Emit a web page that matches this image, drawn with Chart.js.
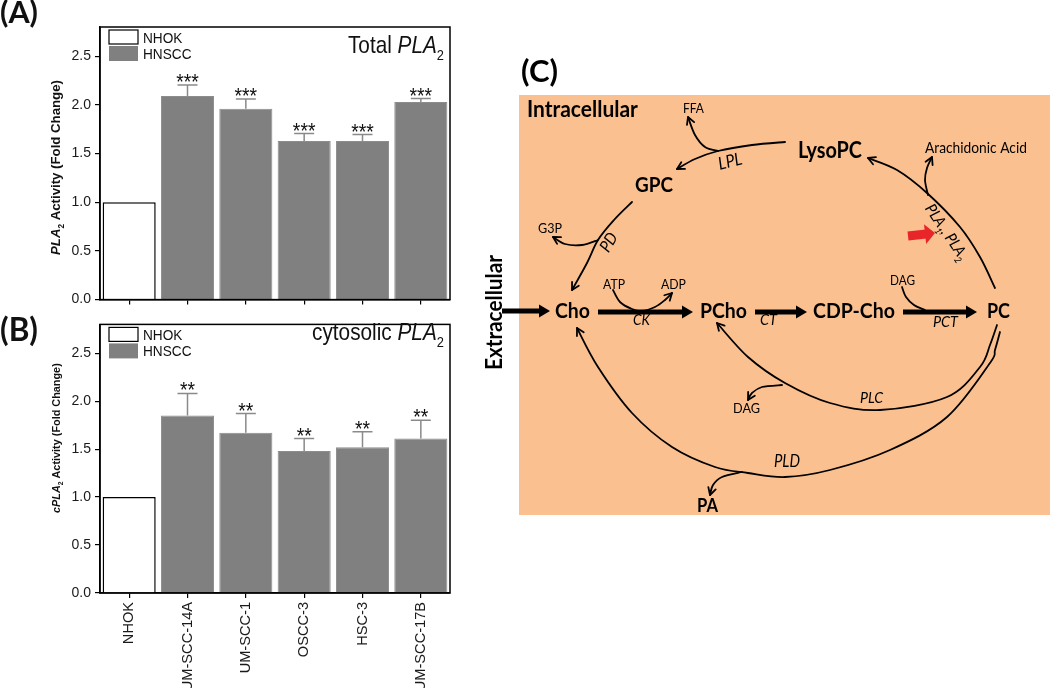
<!DOCTYPE html>
<html>
<head>
<meta charset="utf-8">
<script src="https://cdn.jsdelivr.net/npm/chart.js@4.4.1/dist/chart.umd.min.js"></script>
<style>
html, body { margin: 0; padding: 0; background: #fff; }
body { width: 1050px; height: 688px; position: relative; overflow: hidden; }
canvas { position: absolute; left: 0; }
</style>
</head>
<body>
<canvas id="grafA" width="520" height="312" style="top:0"></canvas>
<canvas id="grafB" width="520" height="376" style="top:312px"></canvas>
<canvas id="esquema" width="1050" height="688" style="top:0"></canvas>
<script>
// dados dos gráficos
const linhagens = ['NHOK', 'UM-SCC-14A', 'UM-SCC-1', 'OSCC-3', 'HSC-3', 'UM-SCC-17B'];
const grupos = ['NHOK', 'HNSCC'];
const totalPLA2 = [1.00, 2.09, 1.96, 1.63, 1.63, 2.03];
const totalPLA2Erro = [0, 0.115, 0.10, 0.075, 0.065, 0.035];
const totalPLA2Sig = ['', '***', '***', '***', '***', '***'];
const cPLA2 = [1.00, 1.85, 1.67, 1.48, 1.52, 1.61];
const cPLA2Erro = [0, 0.23, 0.20, 0.13, 0.16, 0.19];
const cPLA2Sig = ['', '**', '**', '**', '**', '**'];
const ticksY = [0, 0.5, 1.0, 1.5, 2.0, 2.5];
const maxY = 2.8;

const corNHOK = '#ffffff';
const corHNSCC = '#808080';
const fonteArial = '"Liberation Sans", Arial, sans-serif';
const fonteCalibri = 'Lato, "Open Sans", sans-serif';
// o original está um pouco comprimido na horizontal
const compressao = 0.88;
// Lato é mais larga que a fonte do esquema original
const compressaoEsquema = 0.9;

// texto com itálico / subscrito
function fonteParte(p, tam, fam) {
    return (p.i ? 'italic ' : '') + (p.b ? 'bold ' : '') + (p.sub ? tam * 0.62 : tam) + 'px ' + fam;
}
function larguraRica(c, partes, tam, fam) {
    let w = 0;
    partes.forEach(p => { c.font = fonteParte(p, tam, fam); w += c.measureText(p.t).width; });
    return w;
}
function desenharRica(c, partes, x, y, tam, fam, k = 1) {
    c.save();
    c.translate(x, y);
    c.scale(k, 1);
    c.textAlign = 'left';
    c.textBaseline = 'alphabetic';
    let px = 0;
    partes.forEach(p => {
        c.font = fonteParte(p, tam, fam);
        c.fillText(p.t, px, p.sub ? tam * 0.28 : 0);
        px += c.measureText(p.t).width;
    });
    c.restore();
}
function tamanhoAjustado(c, partes, fam, largura) {
    return 20 * largura / larguraRica(c, partes, 20, fam);
}
// texto girado, centrado em (cx, cy)
function desenharGirado(c, partes, cx, cy, ang, largura, fam, k = 1) {
    const tam = tamanhoAjustado(c, partes, fam, largura / k);
    c.save();
    c.translate(cx, cy);
    c.rotate(ang);
    desenharRica(c, partes, -largura / 2, tam * 0.35, tam, fam, k);
    c.restore();
}

function fazerGraficoBarras(idCanvas, valores, erros, sig, cfg) {
    const ctx = document.getElementById(idCanvas);
    const extras = {
        id: 'extras',
        afterDatasetsDraw(chart) {
            const c = chart.ctx, y = chart.scales.y, meta = chart.getDatasetMeta(0);
            c.save();
            meta.data.forEach((barra, i) => {
                if (!erros[i]) return;
                const yTopo = y.getPixelForValue(valores[i] + erros[i]);
                c.strokeStyle = '#8a8a8a';
                c.lineWidth = 1.5;
                c.beginPath();
                c.moveTo(barra.x, barra.y);
                c.lineTo(barra.x, yTopo);
                c.moveTo(barra.x - 10, yTopo);
                c.lineTo(barra.x + 10, yTopo);
                c.stroke();
                c.fillStyle = '#111';
                const parte = [{ t: sig[i] }];
                const w = larguraRica(c, parte, 22, fonteArial) * compressao;
                desenharRica(c, parte, barra.x - w / 2, yTopo + 4, 22, fonteArial, compressao);
            });
            c.restore();
        },
        afterDraw(chart) {
            const c = chart.ctx, a = chart.chartArea, dy = cfg.topoCanvas;
            c.save();
            // moldura
            c.strokeStyle = '#000';
            c.lineWidth = 1.5;
            c.strokeRect(a.left, a.top, a.right - a.left, a.bottom - a.top);
            // legenda
            c.lineWidth = 1.2;
            c.fillStyle = corNHOK;
            c.fillRect(a.left + 9, a.top + 3, 29, 14);
            c.strokeRect(a.left + 9, a.top + 3, 29, 14);
            c.fillStyle = corHNSCC;
            c.fillRect(a.left + 9, a.top + 19, 29, 15);
            c.fillStyle = '#111';
            desenharRica(c, [{ t: grupos[0] }], a.left + 43, a.top + 15.5, 15.5, fonteArial, compressao);
            desenharRica(c, [{ t: grupos[1] }], a.left + 43, a.top + 31.5, 15.5, fonteArial, compressao);
            // título do painel
            const tamT = tamanhoAjustado(c, cfg.titulo, fonteArial, cfg.tituloLarg / compressao);
            desenharRica(c, cfg.titulo, a.right - 6 - cfg.tituloLarg, cfg.tituloBase - dy, tamT, fonteArial, compressao);
            // título do eixo y
            desenharGirado(c, cfg.tituloY, cfg.tituloYCentro[0], cfg.tituloYCentro[1] - dy, -Math.PI / 2, cfg.tituloYLarg, fonteArial);
            // letra do painel
            const letra = [{ t: cfg.painel, b: 1 }];
            desenharRica(c, letra, 0, cfg.painelBase - dy, tamanhoAjustado(c, letra, fonteCalibri, 38), fonteCalibri);
            c.restore();
        }
    };
    return new Chart(ctx, {
        type: 'bar',
        data: {
            labels: linhagens,
            datasets: [{
                data: valores,
                backgroundColor: linhagens.map((l, i) => i === 0 ? corNHOK : corHNSCC),
                borderColor: linhagens.map((l, i) => i === 0 ? '#000' : '#8c8c8c'),
                borderWidth: linhagens.map((l, i) => i === 0 ? 1.5 : 1),
                barPercentage: 0.91,
                categoryPercentage: 1
            }]
        },
        options: {
            responsive: false,
            animation: false,
            layout: { padding: { top: cfg.padTop, right: 70, left: 0, bottom: 0 } },
            plugins: { legend: { display: false }, tooltip: { enabled: false } },
            scales: {
                x: {
                    offset: true,
                    grid: { offset: false, drawOnChartArea: false, tickLength: 5, color: '#000', lineWidth: 1.2 },
                    border: { color: '#000', width: 1.5 },
                    ticks: {
                        display: cfg.mostrarRotulos,
                        minRotation: 90,
                        maxRotation: 90,
                        padding: 4,
                        color: '#1a1a1a',
                        font: { family: fonteArial, size: 14.6 }
                    },
                    afterFit: s => { s.height = cfg.alturaX; }
                },
                y: {
                    min: 0,
                    max: maxY,
                    afterBuildTicks: s => { s.ticks = ticksY.map(v => ({ value: v })); },
                    ticks: {
                        callback: v => Number(v).toFixed(1),
                        padding: 4,
                        color: '#1a1a1a',
                        font: { family: fonteArial, size: 14 }
                    },
                    grid: { drawOnChartArea: false, tickLength: 5, color: '#000', lineWidth: 1.2 },
                    border: { color: '#000', width: 1.5 },
                    afterFit: s => { s.width = 100; }
                }
            }
        },
        plugins: [extras]
    });
}

fazerGraficoBarras('grafA', totalPLA2, totalPLA2Erro, totalPLA2Sig, {
    topoCanvas: 0, padTop: 27, alturaX: 8, mostrarRotulos: false,
    titulo: [{ t: 'Total ' }, { t: 'PLA', i: 1 }, { t: '2', sub: 1 }],
    tituloLarg: 96, tituloBase: 53,
    tituloY: [{ t: 'PLA', i: 1, b: 1 }, { t: '2', sub: 1, b: 1 }, { t: ' Activity (Fold Change)', b: 1 }],
    tituloYCentro: [55.5, 167.5], tituloYLarg: 175,
    painel: '(A)', painelBase: 23
});
fazerGraficoBarras('grafB', cPLA2, cPLA2Erro, cPLA2Sig, {
    topoCanvas: 312, padTop: 3, alturaX: 95, mostrarRotulos: true,
    titulo: [{ t: 'cytosolic ' }, { t: 'PLA', i: 1 }, { t: '2', sub: 1 }],
    tituloLarg: 132, tituloBase: 340,
    tituloY: [{ t: 'cPLA', i: 1, b: 1 }, { t: '2', sub: 1, b: 1 }, { t: ' Activity (Fold Change)', b: 1 }],
    tituloYCentro: [56, 438], tituloYLarg: 150,
    painel: '(B)', painelBase: 341
});

// esquema (C): posições em pixels da página
const caixaIntracelular = [519, 95, 1050, 515];
const corFundo = '#fac090';
// [texto, x, linha de base, largura, negrito, itálico]
const rotulosEsquema = [
    ['Intracellular', 527, 117, 111, 1, 0],
    ['FFA', 683, 113, 21, 0, 0],
    ['LysoPC', 798, 158, 64, 1, 0],
    ['Arachidonic Acid', 925, 153, 102, 0, 0],
    ['GPC', 635, 192, 38, 1, 0],
    ['G3P', 538, 233, 24, 0, 0],
    ['ATP', 603, 289, 22, 0, 0],
    ['ADP', 661, 289, 25, 0, 0],
    ['DAG', 890, 285, 25, 0, 0],
    ['Cho', 555, 318, 35, 1, 0],
    ['PCho', 700, 318, 47, 1, 0],
    ['CDP-Cho', 813, 318, 82, 1, 0],
    ['PC', 987, 318, 23, 1, 0],
    ['CK', 633, 325, 17, 0, 1],
    ['CT', 760, 325, 17, 0, 1],
    ['PCT', 933, 327, 25, 0, 1],
    ['DAG', 733, 413, 27, 0, 0],
    ['PLC', 860, 403, 23, 0, 1],
    ['PLD', 774, 467, 26, 0, 1],
    ['PA', 697, 512, 21, 1, 0]
];
// [partes, cx, cy, ângulo (graus), comprimento]
const rotulosGirados = [
    [[{ t: 'Extracellular', b: 1 }], 494, 312.5, -90, 115],
    [[{ t: 'LPL', i: 1 }], 730, 161, -14, 24],
    [[{ t: 'PD', i: 1 }], 608.5, 242, -58, 19],
    [[{ t: 'PLA', i: 1 }, { t: '1', i: 1, sub: 1 }, { t: ', ', i: 1 }, { t: 'PLA', i: 1 }, { t: '2', i: 1, sub: 1 }], 947, 232, 56, 64]
];
const curvasEsquema = [
    { pts: [[785, 142], [752, 145], [718, 151], [695, 159], [677, 169]], seta: true },
    { pts: [[718, 151], [705, 147], [695, 135], [688, 117]], seta: true },
    { pts: [[632, 202], [614, 220], [598, 240], [587, 263], [572, 290]], seta: true },
    { pts: [[598, 240], [582, 245], [565, 244], [553, 237]], seta: true },
    { pts: [[613, 290], [620, 302], [632, 309], [642, 311], [655, 307], [665, 300], [672, 293]], seta: true },
    { pts: [[902, 287], [906, 297], [914, 305], [925, 310]], seta: false },
    { pts: [[995, 288], [980, 257], [960, 227], [927, 193], [897, 170], [868, 158]], seta: true },
    { pts: [[928, 195], [925, 180], [927, 168], [932, 157]], seta: true },
    { pts: [[997, 325], [990, 345], [980, 367], [947, 397], [880, 410], [830, 403], [785, 383], [748, 357], [717, 323]], seta: true },
    { pts: [[782, 385], [762, 387], [752, 393], [748, 400]], seta: true },
    { pts: [[1000, 332], [995, 350], [990, 363], [947, 417], [890, 450], [830, 470], [785, 477], [748, 473], [715, 467], [672, 447], [632, 413], [598, 367], [577, 328]], seta: true },
    { pts: [[742, 472], [722, 477], [713, 485], [710, 495]], seta: true }
];
const setasGrossas = [[502, 311, 550, 311], [598, 312, 693, 312], [755, 312, 807, 312], [903, 312, 977, 312]];
const setaVermelha = [908, 236, 935, 233];

function desenharCurva(c, pts) {
    c.beginPath();
    c.moveTo(pts[0][0], pts[0][1]);
    for (let i = 0; i < pts.length - 1; i++) {
        const p0 = pts[i - 1] || pts[i], p1 = pts[i], p2 = pts[i + 1], p3 = pts[i + 2] || pts[i + 1];
        c.bezierCurveTo(
            p1[0] + (p2[0] - p0[0]) / 6, p1[1] + (p2[1] - p0[1]) / 6,
            p2[0] - (p3[0] - p1[0]) / 6, p2[1] - (p3[1] - p1[1]) / 6,
            p2[0], p2[1]);
    }
    c.stroke();
}
function pontaAberta(c, de, ate) {
    const ang = Math.atan2(ate[1] - de[1], ate[0] - de[0]), L = 8;
    c.beginPath();
    c.moveTo(ate[0] - L * Math.cos(ang - 0.5), ate[1] - L * Math.sin(ang - 0.5));
    c.lineTo(ate[0], ate[1]);
    c.lineTo(ate[0] - L * Math.cos(ang + 0.5), ate[1] - L * Math.sin(ang + 0.5));
    c.stroke();
}
function setaCheia(c, x0, y0, x1, y1, espessura, compr, meia) {
    const ang = Math.atan2(y1 - y0, x1 - x0), len = Math.hypot(x1 - x0, y1 - y0);
    c.save();
    c.translate(x0, y0);
    c.rotate(ang);
    c.fillRect(0, -espessura / 2, len - compr + 1, espessura);
    c.beginPath();
    c.moveTo(len, 0);
    c.lineTo(len - compr, -meia);
    c.lineTo(len - compr, meia);
    c.closePath();
    c.fill();
    c.restore();
}

const pluginEsquema = {
    id: 'esquema',
    afterDraw(chart) {
        const c = chart.ctx;
        const sx = v => chart.scales.x.getPixelForValue(v);
        const sy = v => chart.scales.y.getPixelForValue(v);
        const P = p => [sx(p[0]), sy(p[1])];
        c.save();
        const [x0, y0, x1, y1] = caixaIntracelular;
        c.fillStyle = corFundo;
        c.fillRect(sx(x0), sy(y0), sx(x1) - sx(x0), sy(y1) - sy(y0));
        // curvas finas
        c.strokeStyle = '#000';
        c.lineWidth = 1.8;
        c.lineCap = 'round';
        c.lineJoin = 'round';
        curvasEsquema.forEach(cv => {
            const pts = cv.pts.map(P);
            desenharCurva(c, pts);
            if (cv.seta) pontaAberta(c, pts[pts.length - 2], pts[pts.length - 1]);
        });
        // setas grossas
        c.fillStyle = '#000';
        setasGrossas.forEach(s => setaCheia(c, sx(s[0]), sy(s[1]), sx(s[2]), sy(s[3]), 5, 11, 6.5));
        c.fillStyle = '#e8262a';
        setaCheia(c, sx(setaVermelha[0]), sy(setaVermelha[1]), sx(setaVermelha[2]), sy(setaVermelha[3]), 9, 10, 10);
        // rótulos
        c.fillStyle = '#000';
        rotulosEsquema.forEach(r => {
            const partes = [{ t: r[0], b: r[4], i: r[5] }];
            const tam = tamanhoAjustado(c, partes, fonteCalibri, r[3] / compressaoEsquema);
            desenharRica(c, partes, sx(r[1]), sy(r[2]), tam, fonteCalibri, compressaoEsquema);
        });
        rotulosGirados.forEach(r => {
            desenharGirado(c, r[0], sx(r[1]), sy(r[2]), r[3] * Math.PI / 180, r[4], fonteCalibri, compressaoEsquema);
        });
        const letra = [{ t: '(C)', b: 1 }];
        desenharRica(c, letra, sx(521), sy(82), tamanhoAjustado(c, letra, fonteCalibri, 37), fonteCalibri);
        c.restore();
    }
};

new Chart(document.getElementById('esquema'), {
    type: 'scatter',
    data: { datasets: [{ data: [], pointRadius: 0 }] },
    options: {
        responsive: false,
        animation: false,
        layout: { padding: 0 },
        plugins: { legend: { display: false }, tooltip: { enabled: false } },
        scales: {
            x: { type: 'linear', min: 0, max: 1050, display: false },
            y: { type: 'linear', min: 0, max: 688, reverse: true, display: false }
        }
    },
    plugins: [pluginEsquema]
});
</script>
</body>
</html>
